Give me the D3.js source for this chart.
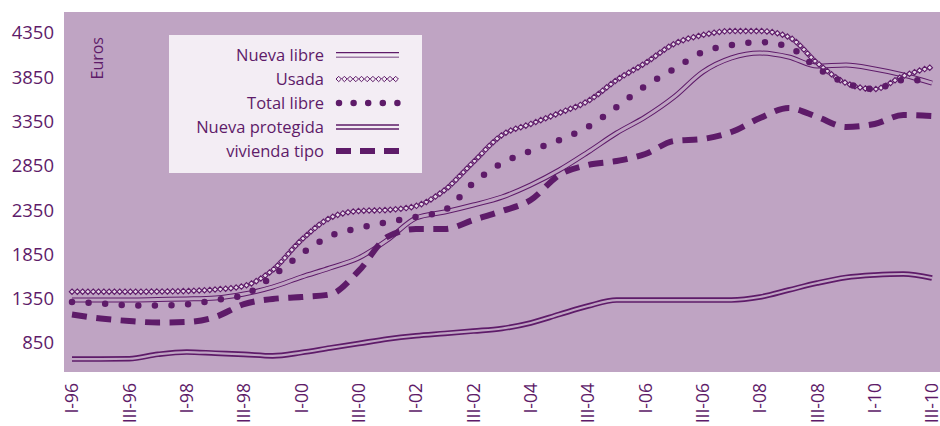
<!DOCTYPE html>
<html>
<head>
<meta charset="utf-8">
<script src="https://cdn.jsdelivr.net/npm/d3@7"></script>
<style>
  body { margin: 0; background: #fff; }
  svg { display: block; font-family: "Open Sans", sans-serif; }
</style>
</head>
<body>
<svg id="chart" width="940" height="426"></svg>
<script>
'use strict';

// tick labels on the time axis (one every second step)
const periodLabels = ["I-96", "III-96", "I-98", "III-98", "I-00", "III-00", "I-02", "III-02",
                      "I-04", "III-04", "I-06", "III-06", "I-08", "III-08", "I-10", "III-10"];
const yTicks = [850, 1350, 1850, 2350, 2850, 3350, 3850, 4350];

// values in euros, sampled at half-label steps (31 points)
const nuevaLibre = [1336, 1336, 1336, 1341, 1347, 1358, 1403, 1482, 1595, 1697, 1810, 2013, 2261, 2329, 2408, 2498,
                    2634, 2803, 3006, 3221, 3402, 3627, 3909, 4068, 4124, 4079, 3977, 3989, 3943, 3876, 3785];
const usada = [1429, 1429, 1429, 1431, 1437, 1454, 1494, 1674, 2013, 2261, 2340, 2352, 2397, 2577, 2893, 3198,
               3323, 3447, 3582, 3819, 4011, 4226, 4327, 4372, 4372, 4305, 4011, 3785, 3717, 3864, 3966];
const totalLibre = [1313, 1296, 1276, 1272, 1285, 1336, 1392, 1606, 1855, 2058, 2148, 2216, 2273, 2352, 2656, 2882,
                    3018, 3142, 3289, 3514, 3752, 3944, 4135, 4214, 4248, 4192, 3955, 3785, 3717, 3819, 3808];
const nuevaProtegida = [669, 669, 672, 722, 748, 735, 722, 705, 742, 794, 844, 895, 932, 958, 985, 1014,
                        1076, 1173, 1268, 1335, 1335, 1335, 1335, 1335, 1369, 1448, 1527, 1590, 1618, 1629, 1584];
const viviendaTipo = [1172, 1127, 1098, 1081, 1087, 1144, 1290, 1347, 1369, 1398, 1663, 2047, 2137, 2137, 2239, 2340,
                      2464, 2747, 2860, 2905, 2984, 3131, 3153, 3232, 3390, 3503, 3402, 3289, 3323, 3424, 3413];

const legendNames = ["Nueva libre", "Usada", "Total libre", "Nueva protegida", "vivienda tipo"];

const purple = "#5e1b69",
      bg = "#bfa4c3",
      boxFill = "#f3edf4";

let svg = d3.select("#chart");

let x = d3.scaleLinear().domain([0, 30]).range([72, 932]);
let y = d3.scaleLinear().domain([850, 4350]).range([343, 33]);

svg.append("rect")
    .attr("x", 64).attr("y", 12)
    .attr("width", 876).attr("height", 360)
    .attr("fill", bg);

// y axis
let yAxis = svg.append("g")
    .attr("transform", "translate(54,0)")
    .call(d3.axisLeft(y).tickValues(yTicks).tickSize(0).tickPadding(0).tickFormat(d3.format("d")));
yAxis.select(".domain").remove();
yAxis.selectAll("text")
    .attr("fill", purple)
    .style("font-size", "18.5px")
    .style("font-family", "Open Sans");

// x axis
let xAxis = svg.append("g")
    .attr("transform", "translate(0,383)")
    .call(d3.axisBottom(x)
        .tickValues(d3.range(0, 31, 2))
        .tickSize(0)
        .tickFormat(function(d) { return periodLabels[d / 2]; }));
xAxis.select(".domain").remove();
xAxis.selectAll("text")
    .attr("fill", purple)
    .style("font-size", "17.5px")
    .style("font-family", "Open Sans")
    .attr("text-anchor", "end")
    .attr("transform", "rotate(-90)")
    .attr("x", 0)
    .attr("y", 0)
    .attr("dy", "0.34em");

svg.append("text")
    .attr("transform", "translate(97,37) rotate(-90)")
    .attr("text-anchor", "end")
    .attr("dy", "0.35em")
    .attr("fill", purple)
    .style("font-size", "16px")
    .text("Euros");

let line = d3.line()
    .x(function(d, i) { return x(i); })
    .y(function(d) { return y(d); })
    .curve(d3.curveMonotoneX);

let plot = svg.append("g");

// Nueva libre: thin double line
plot.append("path").attr("d", line(nuevaLibre))
    .attr("fill", "none").attr("stroke", purple).attr("stroke-width", 5);
plot.append("path").attr("d", line(nuevaLibre))
    .attr("fill", "none").attr("stroke", bg).attr("stroke-width", 3);

// Nueva protegida: heavier double line
plot.append("path").attr("d", line(nuevaProtegida))
    .attr("fill", "none").attr("stroke", purple).attr("stroke-width", 5.6);
plot.append("path").attr("d", line(nuevaProtegida))
    .attr("fill", "none").attr("stroke", bg).attr("stroke-width", 2.2);

// vivienda tipo: thick dashes
plot.append("path").attr("d", line(viviendaTipo))
    .attr("fill", "none").attr("stroke", purple).attr("stroke-width", 6)
    .attr("stroke-dasharray", "15,9.5");

// Usada: diamonds along the curve
let diamond = "M0,-2.7L2.7,0L0,2.7L-2.7,0Z";
let usadaPath = plot.append("path").attr("d", line(usada))
    .attr("fill", "none").attr("stroke", "none");
let node = usadaPath.node(),
    total = node.getTotalLength();
let pts = d3.range(0, total, 5.3).map(function(l) { return node.getPointAtLength(l); });
plot.append("g").selectAll("path")
    .data(pts)
    .enter().append("path")
    .attr("d", diamond)
    .attr("transform", function(p) { return "translate(" + p.x + "," + p.y + ")"; })
    .attr("fill", "#e6d9e8")
    .attr("stroke", purple)
    .attr("stroke-width", 1.15);

// Total libre: round dots
plot.append("path").attr("d", line(totalLibre))
    .attr("fill", "none").attr("stroke", purple).attr("stroke-width", 6.5)
    .attr("stroke-linecap", "round")
    .attr("stroke-dasharray", "0,16.6");

// legend
let legend = svg.append("g");
legend.append("rect")
    .attr("x", 169).attr("y", 35)
    .attr("width", 253).attr("height", 138)
    .attr("fill", boxFill);

let rowY = d3.scalePoint().domain(legendNames).range([55, 151]);

legend.selectAll("text")
    .data(legendNames)
    .enter().append("text")
    .attr("x", 324)
    .attr("y", function(d) { return rowY(d); })
    .attr("dy", "0.35em")
    .attr("text-anchor", "end")
    .attr("fill", purple)
    .style("font-size", "16.5px")
    .text(function(d) { return d; });

let lx0 = 336, lx1 = 399;
let r0 = rowY("Nueva libre");
legend.append("line").attr("x1", lx0).attr("x2", lx1).attr("y1", r0 - 2.3).attr("y2", r0 - 2.3)
    .attr("stroke", purple).attr("stroke-width", 1.2);
legend.append("line").attr("x1", lx0).attr("x2", lx1).attr("y1", r0 + 2.3).attr("y2", r0 + 2.3)
    .attr("stroke", "#9f7ba7").attr("stroke-width", 1.6);

let r1 = rowY("Usada");
legend.append("g").selectAll("path")
    .data(d3.range(lx0 + 2.7, lx1, 5.7))
    .enter().append("path")
    .attr("d", diamond)
    .attr("transform", function(d) { return "translate(" + d + "," + r1 + ")"; })
    .attr("fill", boxFill)
    .attr("stroke", purple)
    .attr("stroke-width", 1);

let r2 = rowY("Total libre");
legend.append("line").attr("x1", lx0 + 3).attr("x2", lx1).attr("y1", r2).attr("y2", r2)
    .attr("stroke", purple).attr("stroke-width", 6.5)
    .attr("stroke-linecap", "round").attr("stroke-dasharray", "0,14.6");

let r3 = rowY("Nueva protegida");
legend.append("line").attr("x1", lx0).attr("x2", lx1).attr("y1", r3 - 2).attr("y2", r3 - 2)
    .attr("stroke", purple).attr("stroke-width", 1.7);
legend.append("line").attr("x1", lx0).attr("x2", lx1).attr("y1", r3 + 2).attr("y2", r3 + 2)
    .attr("stroke", purple).attr("stroke-width", 1.7);

let r4 = rowY("vivienda tipo");
legend.append("line").attr("x1", lx0).attr("x2", lx1).attr("y1", r4).attr("y2", r4)
    .attr("stroke", purple).attr("stroke-width", 6)
    .attr("stroke-dasharray", "15,9");
</script>
</body>
</html>
